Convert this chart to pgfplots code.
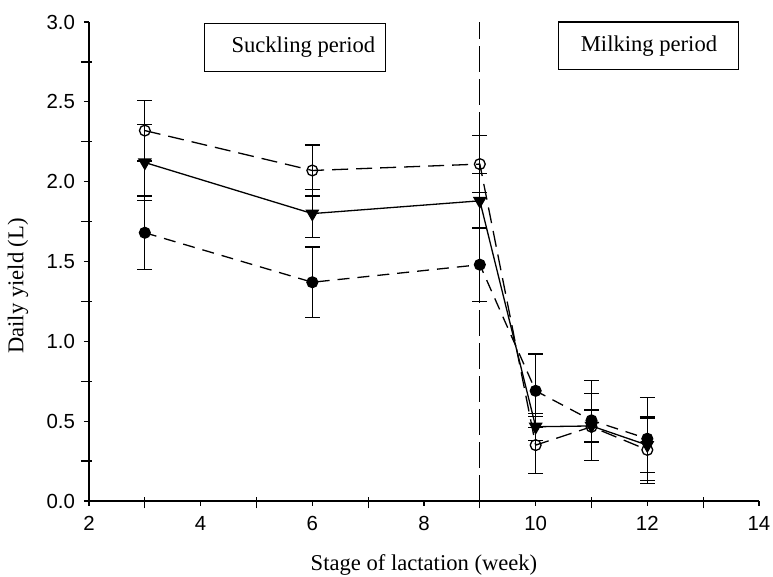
\documentclass[border=0pt]{standalone}
\usepackage{fontspec}
\setmainfont{Liberation Serif}
\newfontfamily\arial{Liberation Sans}
\usepackage{pgfplots}
\pgfplotsset{compat=1.18}

\begin{document}
\begin{tikzpicture}
\begin{axis}[
  scale only axis,
  width=335pt, height=239.5pt,
  xmin=2, xmax=14, ymin=0, ymax=3,
  axis lines*=left,
  axis line style={line width=0.6pt},
  xtick={2,4,...,14},
  ytick={0,0.5,...,3.0},
  minor x tick num=1,
  minor y tick num=1,
  tick align=outside,
  major tick length=2.5pt,
  minor tick length=5.5pt,
  minor x tick style={yshift=1.8pt},
  minor y tick style={xshift=1.5pt},
  tick style={line width=0.6pt, black},
  /pgf/number format/assume math mode=true,
  tick label style={font=\arial\fontsize{10.2}{12}\selectfont},
  xticklabel style={yshift=-1.5pt},
  yticklabel style={/pgf/number format/fixed, /pgf/number format/fixed zerofill,
    /pgf/number format/precision=1, xshift=-1pt},
  xlabel={Stage of lactation (week)},
  ylabel={Daily yield (L)},
  label style={font=\fontsize{11.3}{13}\selectfont},
  xlabel style={at={(axis description cs:0.5,-0.134)}, anchor=center},
  ylabel style={at={(axis description cs:-0.106,0.449)}, anchor=center},
  clip=false,
  every axis plot/.append style={line width=0.65pt, black},
  error bars/error bar style={line width=0.65pt, black, solid},
  error bars/error mark options={rotate=90, mark size=3.7pt, line width=0.65pt, solid},
]
% period divider
\draw[line width=0.6pt, dash pattern=on 13pt off 3.5pt] (axis cs:9,0) -- (axis cs:9,3);

% filled circles
\addplot[dash pattern=on 6pt off 4pt, mark=*, mark size=2.7pt, mark options={solid, fill=black},
  error bars/.cd, y dir=both, y explicit] coordinates {
  (3,1.68) +- (0,0.23)
  (6,1.37) +- (0,0.22)
  (9,1.48) +- (0,0.23)
  (10,0.69) +- (0,0.23)
  (11,0.505) +- (0,0.25)
  (12,0.39) +- (0,0.26)
};
% filled triangles
\addplot[solid, mark=triangle*, mark size=3.4pt, mark options={solid, fill=black, rotate=180},
  error bars/.cd, y dir=both, y explicit] coordinates {
  (3,2.12) +- (0,0.24)
  (6,1.80) +- (0,0.15)
  (9,1.88) +- (0,0.17)
  (10,0.465) +- (0,0.085)
  (11,0.47) +- (0,0.10)
  (12,0.35) +- (0,0.17)
};
% open circles
\addplot[dash pattern=on 8pt off 4pt, mark=o, mark size=2.7pt, mark options={solid, fill=white},
  error bars/.cd, y dir=both, y explicit] coordinates {
  (3,2.32) +- (0,0.19)
  (6,2.07) +- (0,0.16)
  (9,2.11) +- (0,0.18)
  (10,0.35) +- (0,0.18)
  (11,0.465) +- (0,0.21)
  (12,0.32) +- (0,0.21)
};

% period boxes
\draw[line width=0.6pt, fill=white] (axis cs:4.07,2.69) rectangle (axis cs:7.31,2.99);
\node[font=\fontsize{11.3}{13}\selectfont] at (axis cs:5.84,2.845) {Suckling period};
\draw[line width=0.6pt, fill=white] (axis cs:10.41,2.70) rectangle (axis cs:13.63,3.0);
\node[font=\fontsize{11.3}{13}\selectfont] at (axis cs:12.03,2.85) {Milking period};
\end{axis}
\pgfresetboundingbox
\path[use as bounding box] (0,0) ++(-44.5pt,-38pt) rectangle (342pt,250.5pt);
\end{tikzpicture}
\end{document}
